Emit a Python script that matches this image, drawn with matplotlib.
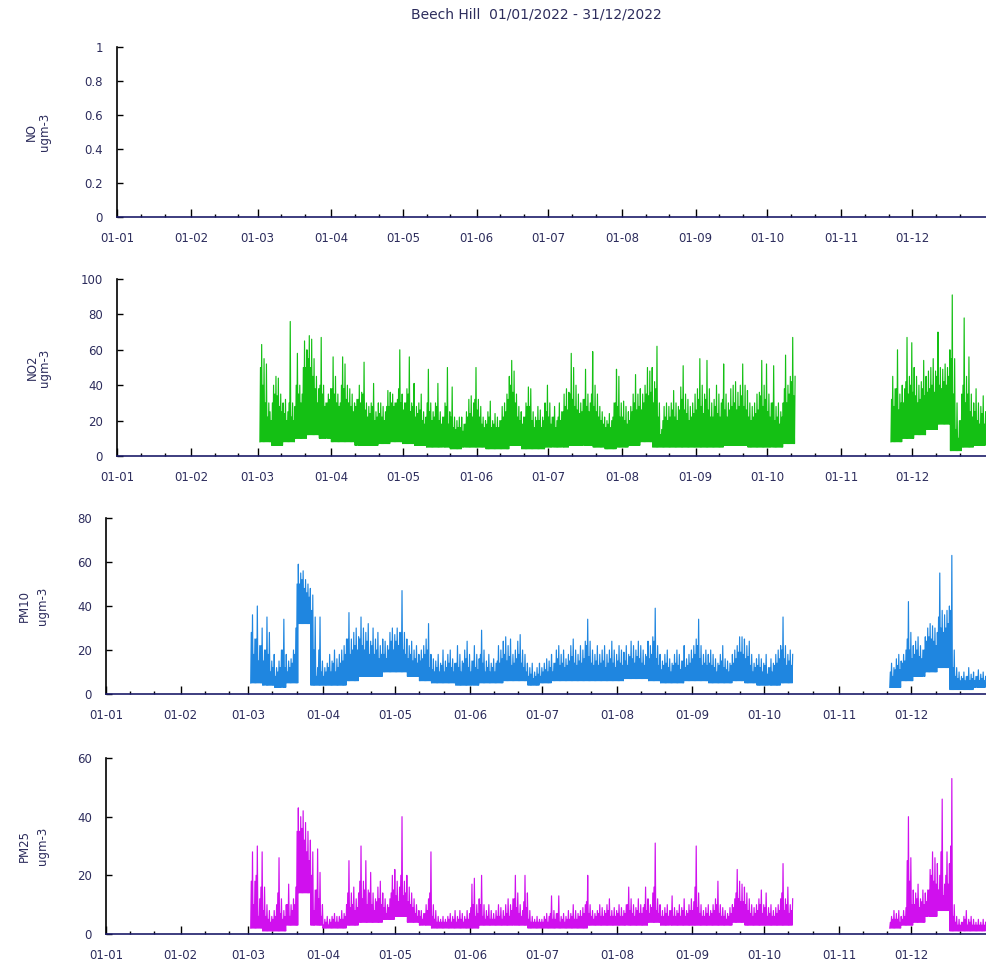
import numpy as np
import pandas as pd
import matplotlib
matplotlib.use('Agg')
import matplotlib.pyplot as plt
import matplotlib.dates as mdates
from matplotlib.ticker import FormatStrFormatter

plt.rcParams['font.family'] = ['DejaVu Sans']

title = 'Beech Hill  01/01/2022 - 31/12/2022'
year_start = pd.Timestamp('2022-01-01')
year_end = pd.Timestamp('2023-01-01')

# day-of-year (0 = 1 Jan) where each run of data begins
run_starts = [60, 325]

# daily peaks and daily body tops, 5-day bins of lows
no2_peak_a = [63,55,52,30,20,40,45,44,35,30, 32,25,76,30,28,58,40,35,65,60,
              68,66,55,45,38,67,40,30,35,38, 56,45,35,30,56,52,40,38,35,30,
              32,40,36,53,30,28,30,41,25,30, 30,28,25,37,36,35,30,32,60,35,
              30,38,56,30,41,28,30,35,25,22, 49,30,25,30,41,25,22,30,50,25,
              39,22,20,22,22,18,25,32,34,30, 50,32,28,22,20,25,31,20,24,22,
              20,28,30,35,45,54,48,35,28,25, 22,30,39,38,25,22,28,26,22,30,
              40,30,22,28,20,30,25,35,38,36, 58,50,40,35,30,32,49,35,30,59,
              40,35,28,25,22,20,24,20,30,49, 45,30,31,28,25,28,35,46,35,38,
              35,40,50,48,50,42,62,30,15,28, 30,28,30,37,30,28,39,51,35,32,
              28,30,35,38,55,40,35,54,38,30, 32,40,35,30,52,35,30,38,40,42,
              36,40,52,40,37,30,28,30,35,36, 54,40,52,35,30,51,28,30,25,30,
              57,40,45,67,45]
no2_body_a = [50,40,30,22,25,30,35,34,28,25, 24,20,30,22,20,40,35,30,50,50,
              55,50,45,38,30,40,35,28,30,32, 38,35,30,28,40,38,32,30,28,25,
              28,32,30,35,26,22,24,28,20,22, 24,22,20,28,28,30,28,30,38,30,
              26,30,35,25,28,22,24,26,20,18, 30,25,20,22,28,20,18,22,28,18,
              22,16,15,16,16,14,18,22,24,22, 32,26,22,18,16,18,22,16,18,16,
              16,20,22,25,32,40,36,30,22,20, 18,22,28,28,20,16,20,20,16,20,
              25,22,18,22,16,22,20,25,28,26, 35,32,28,26,24,25,32,28,25,35,
              28,25,22,20,18,16,18,16,22,30, 28,22,22,20,18,20,25,30,26,28,
              26,30,35,34,36,30,38,22,12,20, 22,20,22,26,22,20,26,32,26,24,
              20,22,24,26,32,28,24,32,26,22, 22,28,24,22,32,26,22,26,28,30,
              26,28,34,28,26,22,20,22,24,26, 34,28,32,25,22,30,20,22,18,22,
              38,30,35,42,34]
no2_low_a = [8,6,8,10,12,10,8,8,6,6, 7,8,7,6,5,5,4,5,5,4,
             4,6,4,4,5,5,6,6,5,4, 5,6,8,5,5,5,5,5,5,6,
             6,5,5,5,7]
no2_peak_b = [45,38,60,35,40,38,67,45,64,50, 45,40,42,54,45,48,50,55,48,70,
              50,49,52,50,60,91,55,30,20,35, 78,45,56,35,30,38,30,28,34,25]
no2_body_b = [32,28,38,26,30,30,42,35,40,36, 34,30,32,38,34,36,38,40,36,45,
              40,38,42,40,45,55,35,15,10,20, 40,30,35,25,22,25,20,18,24,18]
no2_low_b = [8,10,12,15,18,3,5,6]

pm10_peak_a = [36,25,40,22,30,20,35,28,15,18, 12,15,20,34,18,15,16,20,30,59,
               55,56,52,50,48,45,35,12,35,15, 12,14,18,15,20,16,18,20,22,25,
               37,25,28,30,26,35,30,28,32,24, 30,25,28,22,25,24,22,28,30,27,
               30,28,47,28,25,22,24,20,22,18, 20,22,25,32,18,16,15,18,14,20,
               15,18,20,16,14,22,18,15,20,24, 18,15,22,18,16,29,20,15,18,14,
               16,14,22,20,24,26,22,25,18,20, 24,27,20,18,14,12,14,10,12,14,
               12,14,16,15,18,14,20,22,18,20, 16,18,22,25,20,18,22,20,24,34,
               24,20,18,22,18,20,22,18,20,24, 20,18,22,20,19,22,18,24,22,20,
               24,22,20,18,24,22,26,39,22,18, 15,18,20,16,14,18,20,18,15,22,
               16,18,20,22,25,34,22,18,20,18, 20,18,16,14,18,22,16,15,14,18,
               20,22,26,26,25,22,24,18,14,16, 18,16,14,18,12,16,14,18,20,22,
               35,22,18,20,18]
pm10_body_a = [28,18,25,15,22,15,20,18,10,12, 8,10,12,20,12,10,12,14,18,50,
               50,52,48,46,44,38,20,8,20,10, 8,10,12,10,14,10,12,14,15,18,
               25,18,20,22,20,25,22,20,24,18, 22,18,20,16,18,18,16,20,24,20,
               24,22,28,20,18,16,18,15,16,14, 15,16,18,20,12,11,10,12,10,13,
               10,12,14,12,10,14,12,10,14,16, 12,10,15,12,11,18,14,10,12,10,
               12,10,15,14,16,18,15,17,13,14, 16,18,14,12,10,8,9,7,8,9,
               8,10,11,10,12,10,14,16,13,14, 12,13,15,17,14,13,15,14,16,22,
               17,14,13,15,13,14,15,12,14,16, 14,12,15,14,13,15,13,17,16,14,
               17,16,14,13,17,16,18,24,16,13, 11,13,14,12,10,13,14,13,11,15,
               12,13,14,16,18,22,16,13,14,13, 14,13,12,10,13,15,12,11,10,13,
               14,16,19,19,18,16,17,13,10,12, 13,12,10,13,9,12,10,13,14,16,
               20,16,13,15,13]
pm10_low_a = [5,4,3,5,32,4,4,4,6,8, 8,10,10,8,6,5,5,4,4,5,
              5,6,6,4,5,6,6,6,6,6, 6,7,7,6,5,5,6,6,5,5,
              6,5,4,4,5]
pm10_peak_b = [14,12,16,18,15,18,20,42,28,22, 24,26,22,20,26,30,32,31,30,28,
               55,38,36,38,40,63,20,12,10,8, 10,8,12,9,10,8,11,9,10,8]
pm10_body_b = [10,8,11,13,11,14,15,25,20,16, 18,20,17,16,20,24,26,25,24,22,
               35,30,28,30,32,38,12,8,7,6, 7,6,8,6,7,6,8,6,7,6]
pm10_low_b = [3,6,8,10,12,2,2,3]

pm25_peak_a = [28,18,30,12,28,16,10,8,6,8, 10,26,12,8,10,17,10,12,16,43,
               40,42,38,35,32,28,15,29,21,10, 5,6,5,6,7,6,6,8,7,10,
               25,14,16,12,14,30,18,25,15,21, 14,12,16,18,14,12,10,12,20,22,
               18,16,40,18,20,16,14,12,10,8, 8,7,10,12,28,10,8,6,5,6,
               5,6,7,6,8,6,8,7,6,8, 7,17,19,10,12,20,10,8,10,8,
               7,8,10,9,8,10,12,10,12,20, 14,10,8,20,14,8,6,5,6,5,
               5,6,7,6,13,8,7,13,6,7, 6,8,7,10,8,7,8,9,10,20,
               10,8,7,8,10,9,8,10,12,8, 9,8,10,9,8,10,16,12,10,9,
               12,10,9,16,12,10,14,31,12,10, 8,9,10,8,13,9,8,10,9,12,
               8,10,12,11,30,14,10,8,9,10, 8,10,12,18,10,9,8,7,9,10,
               12,22,18,17,16,14,12,10,9,10, 12,15,10,14,9,10,8,9,10,12,
               24,12,16,10,12]
pm25_body_a = [18,10,20,6,16,8,6,5,4,5, 6,14,7,5,6,10,6,8,10,35,
               35,36,32,28,25,20,8,15,12,6, 3,4,3,4,5,4,4,5,5,6,
               14,9,10,8,9,18,12,15,10,14, 10,8,11,12,10,9,7,9,14,15,
               13,11,20,13,14,11,10,9,7,6, 6,5,7,8,14,6,5,4,4,4,
               4,4,5,4,5,4,5,5,4,5, 5,9,10,6,7,10,6,5,6,5,
               5,5,6,6,5,6,7,6,8,12, 9,7,6,11,9,5,4,4,4,4,
               4,4,5,4,7,5,5,7,4,5, 4,5,5,6,5,5,6,6,7,11,
               7,6,5,6,7,6,6,7,8,6, 6,6,7,6,6,7,10,8,7,6,
               8,7,7,10,8,7,9,16,8,7, 6,6,7,6,8,6,6,7,6,8,
               6,7,8,8,16,9,7,6,6,7, 6,7,8,10,7,6,6,5,6,7,
               9,14,12,11,11,10,8,7,6,7, 8,10,7,9,6,7,6,6,7,8,
               14,8,10,7,8]
pm25_low_a = [2,1,1,3,14,3,2,2,3,4, 4,5,6,4,3,2,2,2,2,3,
              3,3,3,2,2,2,2,2,3,3, 3,3,3,4,3,3,3,3,3,3,
              4,3,3,3,3]
pm25_peak_b = [6,8,7,8,6,8,9,40,26,15, 14,17,12,15,14,15,22,28,26,24,
               20,46,17,28,24,53,10,6,5,4, 6,8,5,6,5,4,5,4,5,4]
pm25_body_b = [4,5,5,5,4,5,6,25,18,10, 10,12,9,11,10,11,15,20,18,17,
               15,28,13,20,17,30,6,4,3,3, 4,5,3,4,3,3,3,3,3,3]
pm25_low_b = [2,3,4,6,8,1,1,1]

names = ['NO', 'NO2', 'PM10', 'PM25']
ymax = [1, 100, 80, 60]
ystep = [0.2, 20, 20, 20]
colors = [None, '#14c014', '#1f86e0', '#d010ee']
series = [None,
          [(no2_peak_a, no2_body_a, no2_low_a), (no2_peak_b, no2_body_b, no2_low_b)],
          [(pm10_peak_a, pm10_body_a, pm10_low_a), (pm10_peak_b, pm10_body_b, pm10_low_b)],
          [(pm25_peak_a, pm25_body_a, pm25_low_a), (pm25_peak_b, pm25_body_b, pm25_low_b)]]


def build(runs):
    # each day: low, body, low, peak (6 hours apart); NaN breaks between runs
    xs, ys = [], []
    for start, (peak, body, low) in zip(run_starts, runs):
        for i, pk in enumerate(peak):
            day = year_start + pd.Timedelta(days=start + i)
            vals = (low[i // 5], body[i], low[i // 5], pk)
            for h, v in zip((0, 6, 12, 18), vals):
                xs.append(day + pd.Timedelta(hours=h))
                ys.append(v)
        xs.append(xs[-1] + pd.Timedelta(hours=1))
        ys.append(np.nan)
    return xs, ys


W, H = 986, 969
fig = plt.figure(figsize=(W / 100, H / 100), dpi=100)
txt = '#2c2c5c'

# panel rectangles in pixels: left, y of top tick, y of zero
boxes = [(117, 47, 217), (117, 279, 456), (106, 518, 694), (106, 758, 934)]
label_x = [(31, 45), (32, 45), (24, 42), (24, 42)]

for k in range(4):
    left, ytop, y0 = boxes[k]
    ax = fig.add_axes([left / W, 1 - y0 / H, (W - left) / W, (y0 - ytop) / H])
    if series[k] is not None:
        xs, ys = build(series[k])
        ax.plot(xs, ys, color=colors[k], lw=0.85)
    ax.set_xlim(year_start, year_end - pd.Timedelta(hours=2))
    ax.set_ylim(0, ymax[k])
    ax.set_yticks(np.arange(0, ymax[k] + ystep[k] / 2, ystep[k]))
    ax.yaxis.set_major_formatter(FormatStrFormatter('%g'))
    ax.xaxis.set_major_locator(mdates.MonthLocator())
    ax.xaxis.set_minor_locator(mdates.DayLocator(bymonthday=[11, 21]))
    ax.xaxis.set_major_formatter(mdates.DateFormatter('%d-%m'))
    ax.spines['top'].set_visible(False)
    ax.spines['right'].set_visible(False)
    ax.spines['left'].set_color('black')
    ax.spines['bottom'].set_color('#1c1c6a')
    ax.spines['left'].set_linewidth(1.2)
    ax.spines['bottom'].set_linewidth(1.2)
    ax.tick_params(axis='x', which='major', direction='in', length=6, width=1,
                   pad=11, labelsize=8.5, labelcolor=txt)
    ax.tick_params(axis='x', which='minor', direction='in', length=2.5, width=1)
    ax.tick_params(axis='y', direction='in', length=4, width=1, pad=10,
                   labelsize=8.5, labelcolor=txt)
    ax.patch.set_alpha(0)
    yc = 1 - (ytop + y0) / 2 / H
    fig.text(label_x[k][0] / W, yc, names[k], rotation=90, ha='center',
             va='center', fontsize=8.5, color=txt)
    fig.text(label_x[k][1] / W, yc, 'ugm-3', rotation=90, ha='center',
             va='center', fontsize=8.5, color=txt)

fig.text(536 / W, 1 - 15 / H, title, ha='center', va='center',
         fontsize=10, color=txt)

fig.savefig('out.png', dpi=100)
